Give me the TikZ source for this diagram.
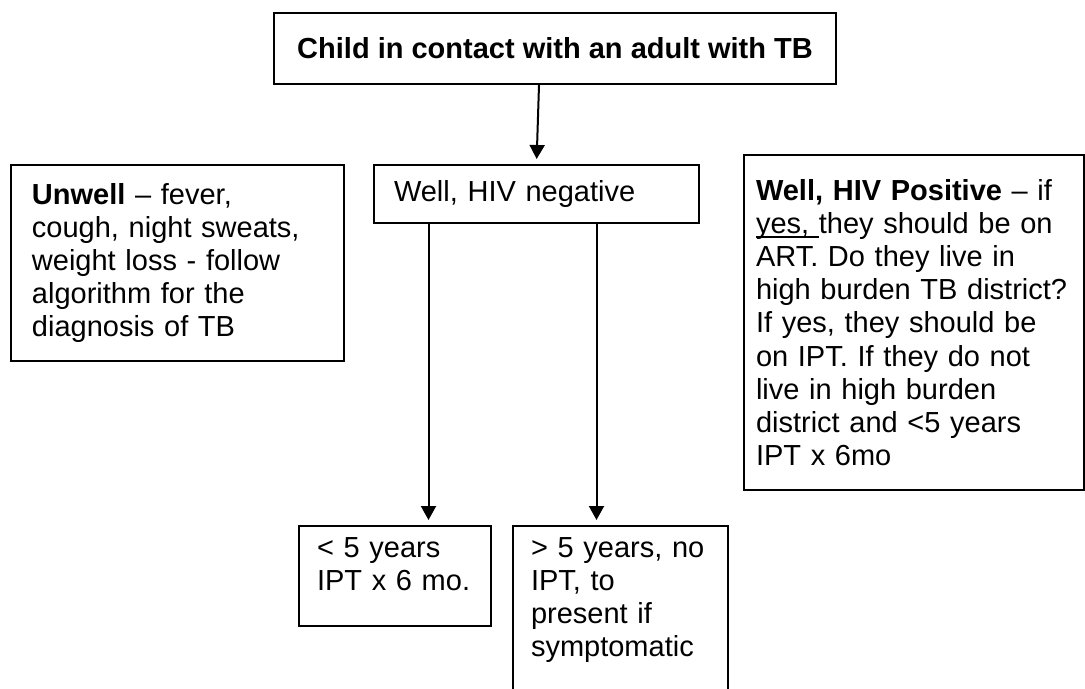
\documentclass[tikz,border=0pt]{standalone}
\usepackage{fontspec}
\setmainfont{Liberation Sans}
\usetikzlibrary{arrows.meta}
\newcommand\undl[1]{\leavevmode\setbox0\hbox{#1}\rlap{\rule[-2.2pt]{\wd0}{0.7pt}}\box0}
\tikzset{
box/.style={draw,line width=1pt,anchor=north west,align=left,inner ysep=0pt},
arr/.style={line width=1pt,-{Triangle[length=7pt,width=7.5pt]},shorten >=2.5pt}
}
\begin{document}
\begin{tikzpicture}[x=0.5pt,y=-0.5pt,font=\fontsize{14.5pt}{16.6pt}\selectfont]
\useasboundingbox (0,0) rectangle (1085,689);
\clip (0,0) rectangle (1085,689);

\node[box,align=center,minimum width=281pt,minimum height=35.5pt] (contact) at (273,12)
{\textbf{Child in contact with an adult with TB}};
\node[box,inner xsep=10.5pt,text width=145.5pt,minimum height=98pt] (unwell) at (10,164)
{\textbf{Unwell} – fever,\\cough, night sweats,\\weight loss - follow\\algorithm for the\\diagnosis of TB};
\node[box,inner xsep=10pt,text width=142.5pt,minimum height=29pt] (well) at (373,164)
{Well, HIV negative};
\node[box,inner xsep=6pt,text width=158pt,minimum height=167.5pt] (hivpos) at (743,154)
{\textbf{Well, HIV Positive} – if\\\undl{yes, }they should be on\\ART. Do they live in\\high burden TB district?\\If yes, they should be\\on IPT. If they do not\\live in high burden\\district and <5 years\\IPT x 6mo};
\node[box,inner xsep=9pt,inner ysep=5.6pt,text width=78pt,text depth=29pt] (young) at (298,525)
{< 5 years\\IPT x 6 mo.};
\node[box,inner xsep=9pt,inner ysep=5.6pt,text width=89.5pt,text depth=90pt] (older) at (512,525)
{> 5 years, no\\IPT, to\\present if\\symptomatic};

\coordinate (l) at ([xshift=-54pt]well.south);
\coordinate (r) at ([xshift=30pt]well.south);
\draw[arr] ([xshift=-8pt]contact.south) -- (well.north);
\draw[arr] (l) -- (l |- young.north);
\draw[arr] (r) -- (r |- older.north);
\end{tikzpicture}
\end{document}
